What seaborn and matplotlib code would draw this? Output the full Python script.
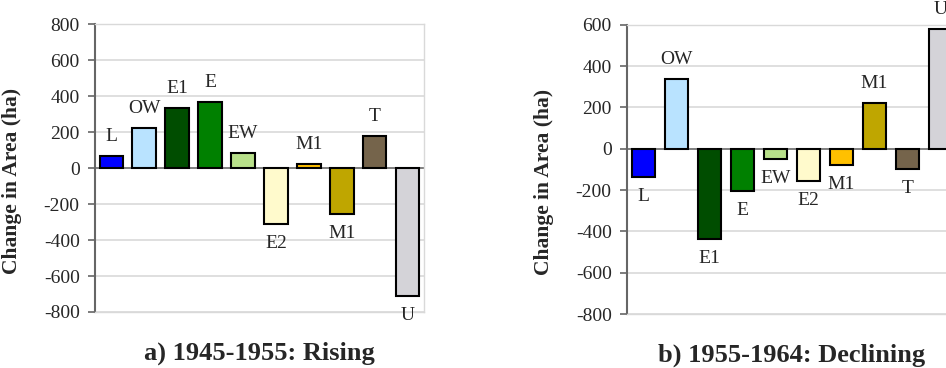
import matplotlib
matplotlib.use("Agg")
import matplotlib.pyplot as plt
import seaborn as sns

# bar names, values (ha)
labels = ["L", "OW", "E1", "E", "EW", "E2", "M1", "M1", "T", "U"]
rising = [70, 222, 333, 367, 87, -311, 24, -254, 178, -709]
declining = [-135, 338, -435, -203, -48, -155, -77, 222, -98, 580]
colors = ["#0000FF", "#B9E3FF", "#004D00", "#008000", "#B8E08A",
          "#FFFACC", "#FFC000", "#BFA600", "#75644B", "#D4D3D8"]
titles = ["a) 1945-1955: Rising", "b) 1955-1964: Declining"]

sns.set_style("white")
plt.rcParams["font.family"] = ["Liberation Serif", "DejaVu Serif"]
plt.rcParams["axes.unicode_minus"] = False

fig = plt.figure(figsize=(9.46, 3.68), dpi=100)
ax1 = fig.add_axes([0.1004, 0.1522, 0.3478, 0.7813])
ax2 = fig.add_axes([0.6628, 0.1467, 0.3488, 0.7860])


def panel(ax, vals, ylim, title):
    pos = list(range(len(vals)))
    sns.barplot(x=pos, y=vals, hue=pos, palette=colors, legend=False,
                saturation=1, width=0.72, edgecolor="black", linewidth=1.5,
                ax=ax, zorder=3)
    ax.set_ylim(*ylim)
    ax.set_xlim(-0.5, len(vals) - 0.5)
    ax.set_yticks(range(ylim[0], ylim[1] + 1, 200))
    ax.set_xticks([])
    ax.grid(axis="y", color="#D9D9D9", linewidth=1.2, zorder=0)
    ax.axhline(0, color="#707070", linewidth=1.2, zorder=2)
    for s in ["top", "bottom", "right"]:
        ax.spines[s].set_color("#D9D9D9")
        ax.spines[s].set_linewidth(1.0)
    ax.spines["left"].set_color("#666666")
    ax.spines["left"].set_linewidth(1.5)
    ax.tick_params(axis="y", left=True, length=5, width=1.2, color="#666666",
                   pad=6, labelsize=14)
    for i, (lab, v) in enumerate(zip(labels, vals)):
        off = 14 if v > 0 else -14
        ax.annotate(lab, (i, v), xytext=(0, off), textcoords="offset points",
                    ha="center", va="center", fontsize=14)
    ax.set_ylabel("Change in Area (ha)", fontsize=15.5, fontweight="bold")
    ax.yaxis.set_label_coords(-0.222, 0.455)
    ax.set_xlabel(title, fontsize=19, fontweight="bold", labelpad=21)


panel(ax1, rising, (-800, 800), titles[0])
panel(ax2, declining, (-800, 600), titles[1])

fig.savefig("out.png", dpi=100)
